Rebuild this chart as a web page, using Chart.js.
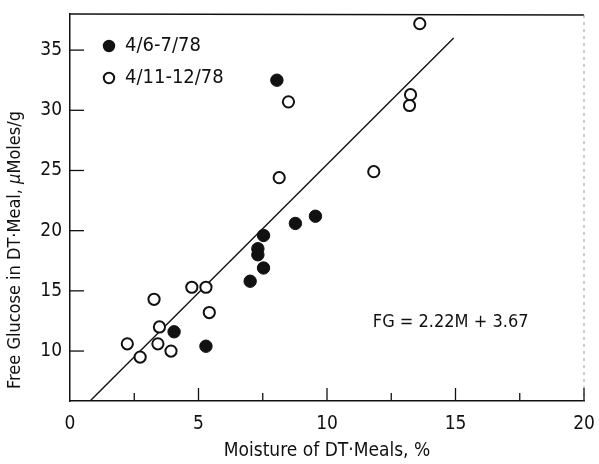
<!DOCTYPE html>
<html><head><meta charset="utf-8">
<script src="https://cdn.jsdelivr.net/npm/chart.js@4/dist/chart.umd.min.js"></script>
<style>html,body{margin:0;padding:0;background:#fff}#wrap{width:599px;height:464px;position:relative}</style>
</head><body><div id="wrap"><canvas id="c" width="599" height="464"></canvas></div>
<script>
// ---- data ----
const seriesALabel = '4/6-7/78';
const seriesAX = [8.05, 7.53, 8.77, 9.55, 7.31, 7.31, 7.53, 7.01, 4.05, 5.29];
const seriesAY = [32.5, 19.6, 20.6, 21.2, 18.5, 18.0, 16.9, 15.8, 11.6, 10.4];
const seriesBLabel = '4/11-12/78';
const seriesBX = [8.50, 8.14, 13.61, 13.25, 13.21, 11.82, 4.74, 5.29, 3.27, 5.42, 3.48, 2.23, 3.42, 3.93, 2.73];
const seriesBY = [30.7, 24.4, 37.2, 31.3, 30.4, 24.9, 15.3, 15.3, 14.3, 13.2, 12.0, 10.6, 10.6, 10.0, 9.5];
const fitX = [0.78, 14.93];
const fitY = [5.85, 36.0];
const equationText = 'FG = 2.22M + 3.67';
const equationX = 17.84;   // right end of the label
const equationY = 12.4;
const xTicks = [0, 2.5, 5, 7.5, 10, 12.5, 15, 17.5, 20];
const xLabelTicks = [0, 5, 10, 15, 20];
const yTicks = [10, 15, 20, 25, 30, 35];
const xTitle = 'Moisture of DT\u00B7Meals, %';
const yTitleParts = ['Free Glucose in DT\u00B7Meal, ', '\u03BC', 'Moles/g'];

const FONT = "'Liberation Sans Narrow', 'DejaVu Sans Condensed', 'Liberation Sans', sans-serif";
const INK = '#111';

const toPts = (xs, ys) => xs.map((x, i) => ({x, y: ys[i]}));

const decor = {
  id: 'decor',
  beforeDatasetsDraw(chart) {
    const {ctx, chartArea: a, scales: {x, y}} = chart;
    ctx.save();
    ctx.strokeStyle = INK;
    ctx.lineWidth = 1.3;
    ctx.beginPath(); ctx.moveTo(a.left, a.top); ctx.lineTo(a.right, a.top + 1); ctx.stroke();
    ctx.strokeStyle = '#9a9a9a'; ctx.lineWidth = 1; ctx.setLineDash([3, 4]);
    ctx.beginPath(); ctx.moveTo(a.right, a.top + 1); ctx.lineTo(a.right, a.bottom); ctx.stroke();
    ctx.setLineDash([]);
    ctx.strokeStyle = INK; ctx.lineWidth = 1.3;
    yTicks.forEach(v => {
      const py = y.getPixelForValue(v);
      ctx.beginPath(); ctx.moveTo(a.left, py); ctx.lineTo(a.left + 14, py); ctx.stroke();
    });
    xTicks.forEach(v => {
      if (v === 0) return;
      const px = x.getPixelForValue(v);
      const len = xLabelTicks.includes(v) ? 13 : 8;
      ctx.beginPath(); ctx.moveTo(px, a.bottom); ctx.lineTo(px, a.bottom - len); ctx.stroke();
    });
    ctx.restore();
  },
  afterDraw(chart) {
    const {ctx, chartArea: a, scales: {x, y}} = chart;
    ctx.save();
    ctx.fillStyle = INK;
    ctx.font = '18px ' + FONT;
    ctx.textAlign = 'right'; ctx.textBaseline = 'middle';
    ctx.fillText(equationText, x.getPixelForValue(equationX), y.getPixelForValue(equationY));
    const ds = chart.data.datasets.filter(d => d.type !== 'line');
    ds.forEach((d, i) => {
      const cy = a.top + 32 + i * 32;
      const cx = a.left + 39;
      ctx.beginPath(); ctx.arc(cx, cy, 5.2, 0, Math.PI * 2);
      ctx.fillStyle = d.pointBackgroundColor; ctx.fill();
      ctx.lineWidth = 2; ctx.strokeStyle = INK; ctx.stroke();
      ctx.fillStyle = INK; ctx.textAlign = 'left'; ctx.textBaseline = 'middle';
      ctx.font = '20px ' + FONT;
      ctx.fillText(d.label, cx + 16, cy);
    });
    ctx.translate(15, 250);
    ctx.rotate(-Math.PI / 2);
    const fonts = ['18px ' + FONT, 'italic 18px ' + FONT, '18px ' + FONT];
    const widths = yTitleParts.map((t, i) => { ctx.font = fonts[i]; return ctx.measureText(t).width; });
    let cur = -widths.reduce((s, w) => s + w, 0) / 2;
    ctx.textAlign = 'left'; ctx.textBaseline = 'middle';
    yTitleParts.forEach((t, i) => { ctx.font = fonts[i]; ctx.fillText(t, cur, 0); cur += widths[i]; });
    ctx.restore();
  }
};

new Chart(document.getElementById('c'), {
  type: 'scatter',
  data: {
    datasets: [
      { type: 'line', label: 'fit', data: toPts(fitX, fitY), borderColor: INK, borderWidth: 1.4,
        pointRadius: 0, fill: false, tension: 0, order: 3 },
      { label: seriesALabel, data: toPts(seriesAX, seriesAY), pointRadius: 6.2, pointHoverRadius: 6.2,
        pointBackgroundColor: INK, pointBorderColor: INK, pointBorderWidth: 1, order: 1 },
      { label: seriesBLabel, data: toPts(seriesBX, seriesBY), pointRadius: 5.6, pointHoverRadius: 5.6,
        pointBackgroundColor: '#ffffff', pointBorderColor: INK, pointBorderWidth: 2, order: 2 }
    ]
  },
  options: {
    responsive: false, animation: false, maintainAspectRatio: false,
    layout: { autoPadding: false, padding: { top: 14, right: 15, left: 0, bottom: 0 } },
    plugins: { legend: { display: false }, tooltip: { enabled: false } },
    scales: {
      x: {
        type: 'linear', min: 0, max: 20,
        afterBuildTicks: s => { s.ticks = xTicks.map(v => ({ value: v })); },
        afterFit: s => { s.height = 63; s.paddingLeft = 0; s.paddingRight = 0; },
        grid: { display: false, drawTicks: false },
        border: { display: true, color: INK, width: 1.5 },
        ticks: { autoSkip: false, maxRotation: 0, padding: 12, color: INK,
          font: { family: FONT, size: 19 },
          callback: v => xLabelTicks.includes(v) ? String(v) : '' },
        title: { display: true, text: xTitle, color: INK, font: { family: FONT, size: 19 },
          padding: { top: 0, bottom: 2 } }
      },
      y: {
        type: 'linear', min: 5.85, max: 38,
        afterBuildTicks: s => { s.ticks = yTicks.map(v => ({ value: v })); },
        afterFit: s => { s.width = 70; s.paddingTop = 0; s.paddingBottom = 0; },
        grid: { display: false, drawTicks: false },
        border: { display: true, color: INK, width: 1.5 },
        ticks: { padding: 8, color: INK, font: { family: FONT, size: 19 } }
      }
    }
  },
  plugins: [decor]
});
</script>
</body></html>
